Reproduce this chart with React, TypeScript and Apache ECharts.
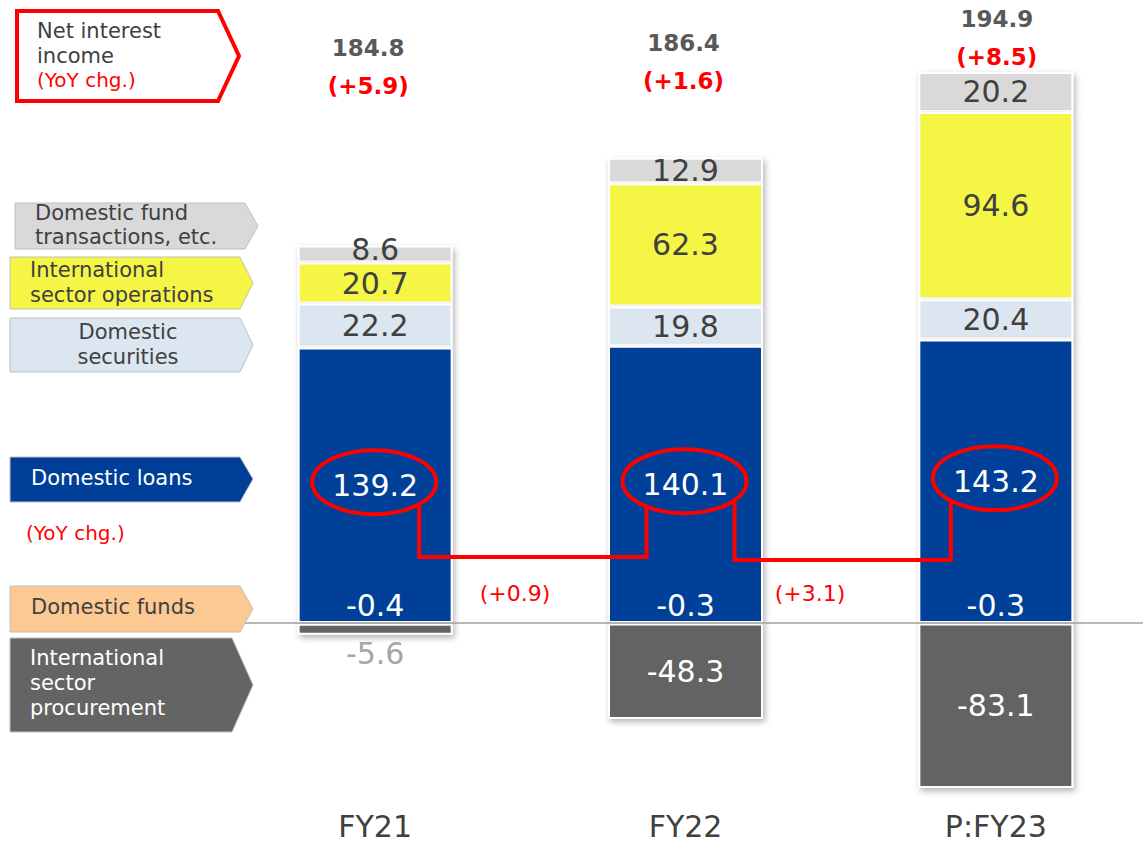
import React, { useEffect, useRef } from "react";
import * as echarts from "echarts";

// ---------- data ----------
const categories = ["FY21", "FY22", "P:FY23"];
const domesticLoans = [139.2, 140.1, 143.2];
const domesticSecurities = [22.2, 19.8, 20.4];
const intlSectorOperations = [20.7, 62.3, 94.6];
const domesticFundTransactions = [8.6, 12.9, 20.2];
const domesticFunds = [-0.4, -0.3, -0.3];
const intlSectorProcurement = [-5.6, -48.3, -83.1];
const netInterestIncome = [184.8, 186.4, 194.9];
const netInterestYoY = ["+5.9", "+1.6", "+8.5"];
const loansYoY = ["+0.9", "+3.1"];

const FONT = "'DejaVu Sans', Verdana, sans-serif";
const DARK = "#404040";
const RED = "#ff0000";

function arrow(x0: number, x1: number, xt: number, y0: number, y1: number, ym: number, fill: string, stroke: string, lw: number) {
  return {
    type: "polygon",
    z: 100,
    shape: { points: [[x0, y0], [x1, y0], [xt, ym], [x1, y1], [x0, y1]] },
    style: { fill, stroke, lineWidth: lw },
  };
}

function txt(x: number, y: number, text: string, fill: string, fontSize: number, opts: any = {}) {
  return {
    type: "text",
    z: 101,
    x,
    y,
    style: {
      text,
      fill,
      fontSize,
      fontFamily: FONT,
      fontWeight: opts.bold ? "bold" : "normal",
      align: opts.align || "left",
      verticalAlign: "middle",
      lineHeight: opts.lineHeight || fontSize + 4,
    },
  };
}

export default function App() {
  const ref = useRef<HTMLDivElement>(null);

  useEffect(() => {
    if (!ref.current) return;
    const chart = echarts.init(ref.current, undefined, { renderer: "svg" });

    const shadow = {
      borderColor: "#ffffff",
      borderWidth: 2,
      shadowBlur: 6,
      shadowColor: "rgba(0,0,0,0.3)",
      shadowOffsetX: 2,
      shadowOffsetY: 3,
    };

    const labelBase = {
      show: true,
      fontSize: 30,
      lineHeight: 28,
      fontFamily: FONT,
      formatter: (p: any) => Number(p.value).toFixed(1),
    };

    // small segments get their label nudged up so it does not collide with the one below
    const withNudge = (arr: number[]) =>
      arr.map((v) => (Math.abs(v) < 10 ? { value: v, label: { offset: [0, -5] } } : v));

    const defs = [
      { name: "Domestic loans", data: domesticLoans, color: "#003f99", labelColor: "#ffffff", z: 5 },
      { name: "Domestic securities", data: domesticSecurities, color: "#dce6f1", labelColor: DARK, z: 4 },
      { name: "International sector operations", data: intlSectorOperations, color: "#f5f545", labelColor: DARK, z: 3 },
      { name: "Domestic fund transactions, etc.", data: domesticFundTransactions, color: "#d9d9d9", labelColor: DARK, z: 2 },
    ];

    const series: any[] = defs.map((d) => ({
      type: "bar",
      name: d.name,
      stack: "total",
      barWidth: 155,
      z: d.z,
      data: withNudge(d.data),
      itemStyle: { color: d.color, ...shadow },
      label: { ...labelBase, position: "inside", color: d.labelColor },
    }));

    series.push({
      type: "bar",
      name: "Domestic funds",
      stack: "total",
      barWidth: 155,
      z: 6,
      data: domesticFunds,
      itemStyle: { color: "#fcc993", borderWidth: 0 },
      label: { ...labelBase, position: "top", distance: 3, color: "#ffffff" },
    });

    series.push({
      type: "bar",
      name: "International sector procurement",
      stack: "total",
      barWidth: 155,
      z: 7,
      data: intlSectorProcurement.map((v) =>
        Math.abs(v) < 15
          ? { value: v, label: { position: "bottom", color: "#a6a6a6" } }
          : { value: v }
      ),
      itemStyle: { color: "#646464", ...shadow },
      label: { ...labelBase, position: "inside", color: "#ffffff" },
      markLine: {
        silent: true,
        z: 10,
        symbol: ["none", "none"],
        label: { show: false },
        lineStyle: { color: "#a0a0a0", width: 1.5, type: "solid" },
        data: [{ yAxis: 0 }],
      },
    });

    chart.setOption({
      animation: false,
      backgroundColor: "#ffffff",
      grid: { left: 220, right: 0, top: 49, bottom: 41 },
      xAxis: {
        type: "category",
        data: categories,
        axisLine: { show: false, onZero: false },
        axisTick: { show: false },
        axisLabel: { fontSize: 30, color: DARK, fontFamily: FONT, margin: 10 },
      },
      yAxis: {
        type: "value",
        min: -90,
        max: 290,
        show: false,
        splitLine: { show: false },
      },
      series,
    });

    // ---------- annotations ----------
    const centers = categories.map((_, i) =>
      chart.convertToPixel({ gridIndex: 0 }, [i, domesticLoans[i] / 2]) as number[]
    );
    const barX = centers.map((c) => c[0]);

    const rx = 62;
    const ry = 32;
    const ell = centers.map((c) => [c[0] - 1, c[1] - 3]);
    const edgeY = (cy: number, dx: number) => cy + ry * Math.sqrt(Math.max(0, 1 - (dx / rx) * (dx / rx)));

    const g: any[] = [];

    // legend-like arrows on the left
    g.push(arrow(17, 218, 239, 11, 101, 56, "#ffffff", RED, 4));
    g.push(txt(37, 31, "Net interest", DARK, 21));
    g.push(txt(37, 56, "income", DARK, 21));
    g.push(txt(37, 80, "(YoY chg.)", RED, 20));

    g.push(arrow(15, 245, 258, 203, 249, 226, "#d9d9d9", "#bfbfbf", 1));
    g.push(txt(35, 225, "Domestic fund\ntransactions, etc.", DARK, 21, { lineHeight: 24 }));

    g.push(arrow(10, 240, 253, 257, 309, 283, "#f5f545", "#bfbfbf", 1));
    g.push(txt(30, 282, "International\nsector operations", DARK, 21, { lineHeight: 25 }));

    g.push(arrow(10, 240, 253, 318, 372, 345, "#dce6f1", "#bfbfbf", 1));
    g.push(txt(128, 344, "Domestic\nsecurities", DARK, 21, { align: "center", lineHeight: 25 }));

    g.push(arrow(10, 240, 253, 457, 502, 479, "#003f99", "#bfbfbf", 1));
    g.push(txt(31, 478, "Domestic loans", "#ffffff", 21));

    g.push(txt(26, 533, "(YoY chg.)", RED, 20));

    g.push(arrow(10, 240, 253, 586, 632, 609, "#fcc993", "#bfbfbf", 1));
    g.push(txt(31, 607, "Domestic funds", DARK, 21));

    g.push(arrow(10, 232, 253, 638, 732, 685, "#646464", "#bfbfbf", 1));
    g.push(txt(30, 683, "International\nsector\nprocurement", "#ffffff", 21, { lineHeight: 25 }));

    // totals above bars
    const totalDx = [-7, -2, 1];
    const totalY = [48, 43, 19];
    netInterestIncome.forEach((v, i) => {
      g.push(txt(barX[i] + totalDx[i], totalY[i], v.toFixed(1), "#595959", 23, { bold: true, align: "center" }));
      g.push(txt(barX[i] + totalDx[i], totalY[i] + 38, "(" + netInterestYoY[i] + ")", RED, 23, { bold: true, align: "center" }));
    });

    // ellipses around loan values
    ell.forEach((c) => {
      g.push({
        type: "ellipse",
        z: 102,
        shape: { cx: c[0], cy: c[1], rx, ry },
        style: { fill: "none", stroke: RED, lineWidth: 4 },
      });
    });

    // step connectors
    const conn = [
      { a: 45, b: -38, y: 557 },
      { a: 50, b: -44, y: 560 },
    ];
    conn.forEach((cn, i) => {
      const p = ell[i];
      const q = ell[i + 1];
      const x1 = p[0] + cn.a;
      const x2 = q[0] + cn.b;
      g.push({
        type: "polyline",
        z: 102,
        shape: {
          points: [
            [x1, edgeY(p[1], cn.a)],
            [x1, cn.y],
            [x2, cn.y],
            [x2, edgeY(q[1], cn.b)],
          ],
        },
        style: { fill: "none", stroke: RED, lineWidth: 4 },
      });
    });

    const yoyX = [515, 810];
    loansYoY.forEach((s, i) => {
      g.push(txt(yoyX[i], 593, "(" + s + ")", RED, 22, { align: "center" }));
    });

    chart.setOption({ graphic: { elements: g } });

    return () => chart.dispose();
  }, []);

  return (
    <div
      ref={ref}
      style={{ position: "fixed", left: 0, top: 0, width: 1151, height: 842, background: "#fff" }}
    />
  );
}
